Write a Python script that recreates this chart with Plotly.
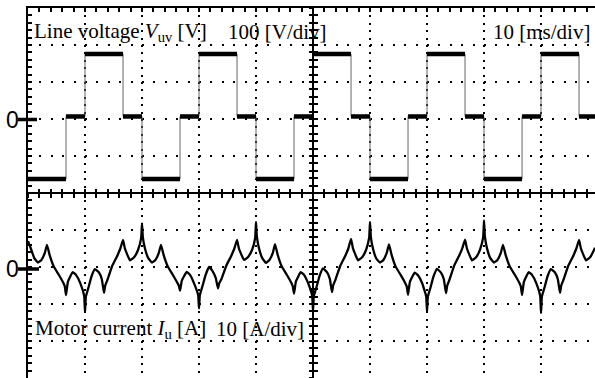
import plotly.graph_objects as go

# ---------------- data ----------------
# Line voltage V_uv (six-step): segment boundaries [ms] and level of each segment [V]
v_bounds_ms = [0.0, 6.67, 10.0, 16.67, 20.0, 26.67, 30.0, 36.67, 40.0, 46.67, 50.0,
               56.67, 60.0, 66.67, 70.0, 76.67, 80.0, 86.67, 90.0, 96.67, 99.47]
v_levels_V = [-169, 0, 169, 0, -169, 0, 169, 0, -169, 0,
              169, 0, -169, 0, 169, 0, -169, 0, 169, 0]

# Motor current I_u [A], time in ms
cur_t_ms = [
    0.00, 0.55, 1.10, 1.75, 2.35, 2.95, 3.33, 3.80, 4.50, 5.40, 6.10, 6.45, 6.67, 7.00, 7.85,
    8.45, 9.15, 9.85, 10.00, 10.15, 10.60, 11.15, 11.75, 12.45, 12.95, 13.33, 13.55, 13.90,
    14.80, 15.65, 16.20, 16.67, 17.00, 17.90, 18.65, 19.30, 19.85,
    20.00, 20.15, 20.55, 21.10, 21.75, 22.35, 22.95, 23.33, 23.80, 24.50, 25.40, 26.10, 26.45,
    26.67, 27.00, 27.85, 28.45, 29.15, 29.85, 30.00, 30.15, 30.60, 31.15, 31.75, 32.45, 32.95,
    33.33, 33.55, 33.90, 34.80, 35.65, 36.20, 36.67, 37.00, 37.90, 38.65, 39.30, 39.85,
    40.00, 40.15, 40.55, 41.10, 41.75, 42.35, 42.95, 43.33, 43.80, 44.50, 45.40, 46.10, 46.45,
    46.67, 47.00, 47.85, 48.45, 49.15, 49.85, 50.00, 50.15, 50.60, 51.15, 51.75, 52.45, 52.95,
    53.33, 53.55, 53.90, 54.80, 55.65, 56.20, 56.67, 57.00, 57.90, 58.65, 59.30, 59.85,
    60.00, 60.15, 60.55, 61.10, 61.75, 62.35, 62.95, 63.33, 63.80, 64.50, 65.40, 66.10, 66.45,
    66.67, 67.00, 67.85, 68.45, 69.15, 69.85, 70.00, 70.15, 70.60, 71.15, 71.75, 72.45, 72.95,
    73.33, 73.55, 73.90, 74.80, 75.65, 76.20, 76.67, 77.00, 77.90, 78.65, 79.30, 79.85,
    80.00, 80.15, 80.55, 81.10, 81.75, 82.35, 82.95, 83.33, 83.80, 84.50, 85.40, 86.10, 86.45,
    86.67, 87.00, 87.85, 88.45, 89.15, 89.85, 90.00, 90.15, 90.60, 91.15, 91.75, 92.45, 92.95,
    93.33, 93.55, 93.90, 94.80, 95.65, 96.20, 96.67, 97.00, 97.90, 98.65, 99.30, 99.47,
]
cur_A = [
    7.0, 4.8, 2.4, 1.2, 1.9, 3.8, 6.0, 3.2, 0.2, -2.1, -4.0, -5.2, -7.6, -4.0, -1.4,
    -2.2, -4.3, -7.8, -12.2, -8.0, -5.6, -2.5, -0.6, -1.5, -3.3, -7.0, -5.0, -3.6,
    0.4, 3.0, 5.0, 7.3, 5.0, 1.8, 2.7, 4.6, 7.8,
    11.8, 8.0, 4.8, 2.4, 1.2, 1.9, 3.8, 6.0, 3.2, 0.2, -2.1, -4.0, -5.0,
    -6.4, -3.6, -1.3, -2.2, -4.5, -7.6, -11.2, -7.6, -5.2, -2.2, 0.0, -1.3, -3.0,
    -5.8, -4.4, -3.4, 0.4, 3.0, 5.0, 7.3, 5.0, 1.9, 2.8, 4.6, 7.8,
    12.2, 8.2, 4.9, 2.4, 1.1, 1.9, 3.8, 6.2, 3.3, 0.2, -2.1, -4.0, -5.2,
    -7.2, -3.9, -1.4, -2.2, -4.4, -7.8, -11.8, -7.8, -5.5, -2.4, -0.4, -1.4, -3.2,
    -6.8, -4.9, -3.6, 0.4, 3.0, 5.0, 7.6, 5.1, 1.8, 2.7, 4.6, 7.9,
    12.2, 8.1, 4.8, 2.3, 1.2, 1.9, 3.9, 6.1, 3.2, 0.1, -2.2, -4.1, -5.3,
    -7.5, -4.0, -1.5, -2.3, -4.4, -7.9, -12.0, -8.0, -5.6, -2.5, -0.5, -1.5, -3.3,
    -7.1, -5.0, -3.6, 0.5, 3.1, 5.1, 7.4, 5.0, 1.8, 2.7, 4.7, 8.0,
    12.6, 8.3, 4.9, 2.4, 1.2, 1.9, 3.8, 6.0, 3.2, 0.2, -2.1, -4.0, -5.2,
    -7.6, -4.0, -1.4, -2.2, -4.3, -7.8, -12.4, -8.0, -5.6, -2.5, -0.6, -1.5, -3.3,
    -7.0, -5.0, -3.6, 0.4, 3.0, 5.0, 7.3, 5.0, 1.8, 2.7, 4.6, 5.2,
]

# scope settings
time_per_div_ms = 10
volt_per_div = 100
amp_per_div = 10
x_range = [0, 99.47]
i_range = [-30, 70]            # current channel, 0 A at 7 div from top
v_range = [-706.8, 293.2]      # voltage channel

label_v = "Line voltage <i>V</i><sub>uv</sub> [V]"
label_v_scale = "100 [V/div]"
label_t_scale = "10 [ms/div]"
label_i = "Motor current <i>I</i><sub>u</sub> [A]"
label_i_scale = "10 [A/div]"

# ---------------- build traces ----------------
flat_x, flat_y, edge_x, edge_y = [], [], [], []
for k, lev in enumerate(v_levels_V):
    flat_x += [v_bounds_ms[k], v_bounds_ms[k + 1], None]
    flat_y += [lev, lev, None]
for k in range(1, len(v_levels_V)):
    edge_x += [v_bounds_ms[k], v_bounds_ms[k], None]
    edge_y += [v_levels_V[k - 1], v_levels_V[k], None]

fig = go.Figure()

# empty traces so that the frame / centre axes are drawn
for xa, ya in [("x2", "y"), ("x3", "y"), ("x4", "y"), ("x", "y3"), ("x", "y4"), ("x", "y5")]:
    fig.add_trace(go.Scatter(x=[None], y=[None], xaxis=xa, yaxis=ya, mode="lines",
                             hoverinfo="skip", showlegend=False))

fig.add_trace(go.Scatter(x=edge_x, y=edge_y, mode="lines", yaxis="y2",
                         line=dict(color="#666666", width=1), hoverinfo="skip"))
fig.add_trace(go.Scatter(x=flat_x, y=flat_y, mode="lines", yaxis="y2",
                         line=dict(color="black", width=4.5), hoverinfo="skip"))
fig.add_trace(go.Scatter(x=cur_t_ms, y=cur_A, mode="lines", yaxis="y",
                         line=dict(color="black", width=2.3, shape="spline", smoothing=0.35),
                         hoverinfo="skip"))

common = dict(showticklabels=False, zeroline=False, fixedrange=True)
frame = dict(linecolor="black", tickcolor="black", showgrid=False)

fig.update_layout(
    width=595, height=378,
    margin=dict(l=28, r=0, t=8, b=0),
    paper_bgcolor="white", plot_bgcolor="white",
    showlegend=False,
    xaxis=dict(range=x_range, dtick=time_per_div_ms, tick0=0, showgrid=True,
               gridcolor="black", gridwidth=2, griddash="2px,5.4px",
               showline=False, ticks="", **common),
    yaxis=dict(range=i_range, dtick=amp_per_div, tick0=0, showgrid=True,
               gridcolor="black", gridwidth=2, griddash="2px,9.4px",
               showline=False, ticks="", **common),
    yaxis2=dict(range=v_range, overlaying="y", visible=False, fixedrange=True),
    # top border with ticks
    xaxis2=dict(range=x_range, overlaying="x", side="top", showline=True, linewidth=2,
                ticks="inside", ticklen=4, tickwidth=1.5, dtick=time_per_div_ms / 5, tick0=0,
                **frame, **common),
    # left border with ticks
    yaxis3=dict(range=i_range, overlaying="y", side="left", anchor="x", showline=True,
                linewidth=2, ticks="inside", ticklen=4, tickwidth=1.5,
                dtick=amp_per_div / 5, tick0=0, **frame, **common),
    # centre horizontal axis (ticks on both sides)
    xaxis3=dict(range=x_range, overlaying="x", anchor="free", position=0.5, showline=True,
                linewidth=2, ticks="inside", ticklen=3.5, tickwidth=1.5,
                dtick=time_per_div_ms / 5, tick0=0, **frame, **common),
    xaxis4=dict(range=x_range, overlaying="x", anchor="free", position=0.5, showline=True,
                linewidth=2, ticks="outside", ticklen=3.5, tickwidth=1.5,
                dtick=time_per_div_ms / 5, tick0=0, **frame, **common),
    # centre vertical axis (ticks on both sides)
    yaxis4=dict(range=i_range, overlaying="y", anchor="free", position=50 / x_range[1],
                showline=True, linewidth=2, ticks="inside", ticklen=3.5, tickwidth=1.5,
                dtick=amp_per_div / 5, tick0=0, **frame, **common),
    yaxis5=dict(range=i_range, overlaying="y", anchor="free", position=50 / x_range[1],
                showline=True, linewidth=2, ticks="outside", ticklen=3.5, tickwidth=1.5,
                dtick=amp_per_div / 5, tick0=0, **frame, **common),
)

serif = dict(family="Liberation Serif", size=21, color="black")
sans = dict(family="Liberation Sans", size=23, color="black")
W, H = 567.0, 370.0


def px(xp):
    return (xp - 28) / W


def py(yp):
    return (378 - yp) / H


ann = [
    dict(text=label_v, x=px(32), y=py(32), xanchor="left", yanchor="middle", font=serif),
    dict(text=label_v_scale, x=px(226), y=py(32), xanchor="left", yanchor="middle", font=serif),
    dict(text=label_t_scale, x=px(592), y=py(32), xanchor="right", yanchor="middle", font=serif),
    dict(text=label_i, x=px(33), y=py(329), xanchor="left", yanchor="middle", font=serif),
    dict(text=label_i_scale, x=px(214), y=py(329), xanchor="left", yanchor="middle", font=serif),
    dict(text="0", x=px(12.5), y=py(120), xanchor="center", yanchor="middle", font=sans),
    dict(text="0", x=px(12.5), y=py(269), xanchor="center", yanchor="middle", font=sans),
]
for a in ann:
    a.update(xref="paper", yref="paper", showarrow=False)
fig.update_layout(annotations=ann)

shapes = [
    dict(type="line", xref="paper", yref="paper", x0=px(18), x1=px(37), y0=py(119.5), y1=py(119.5),
         line=dict(color="black", width=3.5)),
    dict(type="line", xref="paper", yref="paper", x0=px(18), x1=px(39), y0=py(269), y1=py(269),
         line=dict(color="black", width=3.5)),
]
fig.update_layout(shapes=shapes)

fig.write_html("out.html")
